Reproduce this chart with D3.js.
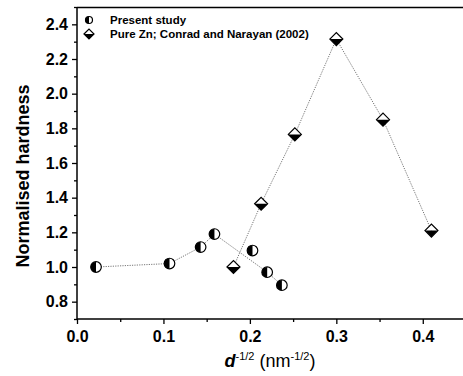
<!DOCTYPE html>
<html><head><meta charset="utf-8">
<script src="https://cdn.jsdelivr.net/npm/d3@7"></script>
<style>body{margin:0;background:#fff}svg{display:block}text{font-family:Arial,"Liberation Sans",sans-serif}</style>
</head><body><svg id="c" width="463" height="376"></svg>
<script>
// Data
const presentX = [0.022, 0.107, 0.143, 0.159, 0.203, 0.220, 0.237];
const presentY = [1.00, 1.02, 1.115, 1.19, 1.095, 0.97, 0.895];
const presentConnected = [true, true, true, true, false, true, true];
const znX = [0.181, 0.213, 0.252, 0.300, 0.354, 0.410];
const znY = [1.00, 1.365, 1.765, 2.315, 1.85, 1.21];
const xTicks = [0.0, 0.1, 0.2, 0.3, 0.4];
const yTicks = [0.8, 1.0, 1.2, 1.4, 1.6, 1.8, 2.0, 2.2, 2.4];
const legendLabels = ["Present study", "Pure Zn; Conrad and Narayan (2002)"];

const svg = d3.select("#c");
const L = 77, T = 7, B = 319, R = 466;
const x = d3.scaleLinear().domain([0, 0.45]).range([L, R]);
const y = d3.scaleLinear().domain([0.7, 2.5]).range([B, T]);

// frame top line
svg.append("line").attr("x1", L).attr("x2", R).attr("y1", T + 0.5).attr("y2", T + 0.5).attr("stroke", "#000").attr("stroke-width", 1.5);

// axes
const xAxis = d3.axisBottom(x).tickValues(xTicks).tickFormat(d3.format(".1f")).tickSize(5).tickPadding(3);
const gx = svg.append("g").attr("transform", `translate(0,${B})`).call(xAxis);
const xMinor = d3.axisBottom(x).tickValues([0.05, 0.15, 0.25, 0.35, 0.45]).tickFormat("").tickSize(3);
svg.append("g").attr("transform", `translate(0,${B})`).call(xMinor).select(".domain").remove();
const yAxis = d3.axisLeft(y).tickValues(yTicks).tickFormat(d3.format(".1f")).tickSize(5).tickPadding(4);
const gy = svg.append("g").attr("transform", `translate(${L},0)`).call(yAxis);
const yMinor = d3.axisLeft(y).tickValues([0.7, 0.9, 1.1, 1.3, 1.5, 1.7, 1.9, 2.1, 2.3, 2.5]).tickFormat("").tickSize(3);
svg.append("g").attr("transform", `translate(${L},0)`).call(yMinor).select(".domain").remove();
svg.selectAll(".domain").attr("stroke-width", 1.5);
svg.selectAll(".tick line").attr("stroke-width", 1.3);
svg.selectAll(".tick text").attr("font-size", 16).attr("font-weight", "bold").attr("fill", "#000")
  .attr("font-family", "Arial, 'Liberation Sans', sans-serif");
gx.selectAll(".tick text").attr("dy", "0.95em");
gx.selectAll(".domain").attr("d", `M${L},0H${R}`);
gy.selectAll(".domain").attr("d", `M0,${B}V${T}`);

// titles
svg.append("text").attr("transform", "translate(29,176) rotate(-90)").attr("text-anchor", "middle")
  .attr("font-size", 18).attr("font-weight", "bold").text("Normalised hardness");
const xt = svg.append("text").attr("x", 270).attr("y", 367).attr("text-anchor", "middle").attr("font-size", 18);
xt.append("tspan").attr("font-weight", "bold").attr("font-style", "italic").text("d");
xt.append("tspan").attr("font-size", 11).attr("dy", -7).text("-1/2");
xt.append("tspan").attr("dy", 7).text(" (nm");
xt.append("tspan").attr("font-size", 11).attr("dy", -7).text("-1/2");
xt.append("tspan").attr("dy", 7).text(")");

// lines
const pts = presentX.map((v, i) => ({x: v, y: presentY[i], c: presentConnected[i]}));
const zn = znX.map((v, i) => ({x: v, y: znY[i]}));
const line = d3.line().x(d => x(d.x)).y(d => y(d.y));
const lineStyle = s => s.attr("fill", "none").attr("stroke", "#777").attr("stroke-width", 1).attr("stroke-dasharray", "1.2,1.2");
svg.append("path").datum(pts.filter(d => d.c)).attr("d", line).call(lineStyle);
svg.append("path").datum(zn).attr("d", line).call(lineStyle);

// markers
function halfCircle(g, cx, cy, r) {
  g.append("circle").attr("cx", cx).attr("cy", cy).attr("r", r).attr("fill", "#fff");
  g.append("path").attr("d", `M${cx},${cy - r}A${r},${r} 0 0 0 ${cx},${cy + r}Z`).attr("fill", "#000");
  g.append("circle").attr("cx", cx).attr("cy", cy).attr("r", r).attr("fill", "none").attr("stroke", "#000").attr("stroke-width", 1.2);
}
function halfDiamond(g, cx, cy, h) {
  g.append("path").attr("d", `M${cx - h},${cy}L${cx},${cy - h}L${cx + h},${cy}Z`).attr("fill", "#fff");
  g.append("path").attr("d", `M${cx - h},${cy}L${cx},${cy + h}L${cx + h},${cy}Z`).attr("fill", "#000");
  g.append("path").attr("d", `M${cx - h},${cy}L${cx},${cy - h}L${cx + h},${cy}L${cx},${cy + h}Z`).attr("fill", "none").attr("stroke", "#000").attr("stroke-width", 1.2);
}
const gm = svg.append("g");
zn.forEach(d => halfDiamond(gm, x(d.x), y(d.y), 6.5));
pts.forEach(d => halfCircle(gm, x(d.x), y(d.y), 5.3));

// legend
const lg = svg.append("g");
halfCircle(lg, 89, 20, 3.5);
halfDiamond(lg, 89, 34, 5);
legendLabels.forEach((t, i) => {
  lg.append("text").attr("x", 110).attr("y", 24 + i * 14).attr("font-size", 11.5).attr("font-weight", "bold").text(t);
});
</script></body></html>
